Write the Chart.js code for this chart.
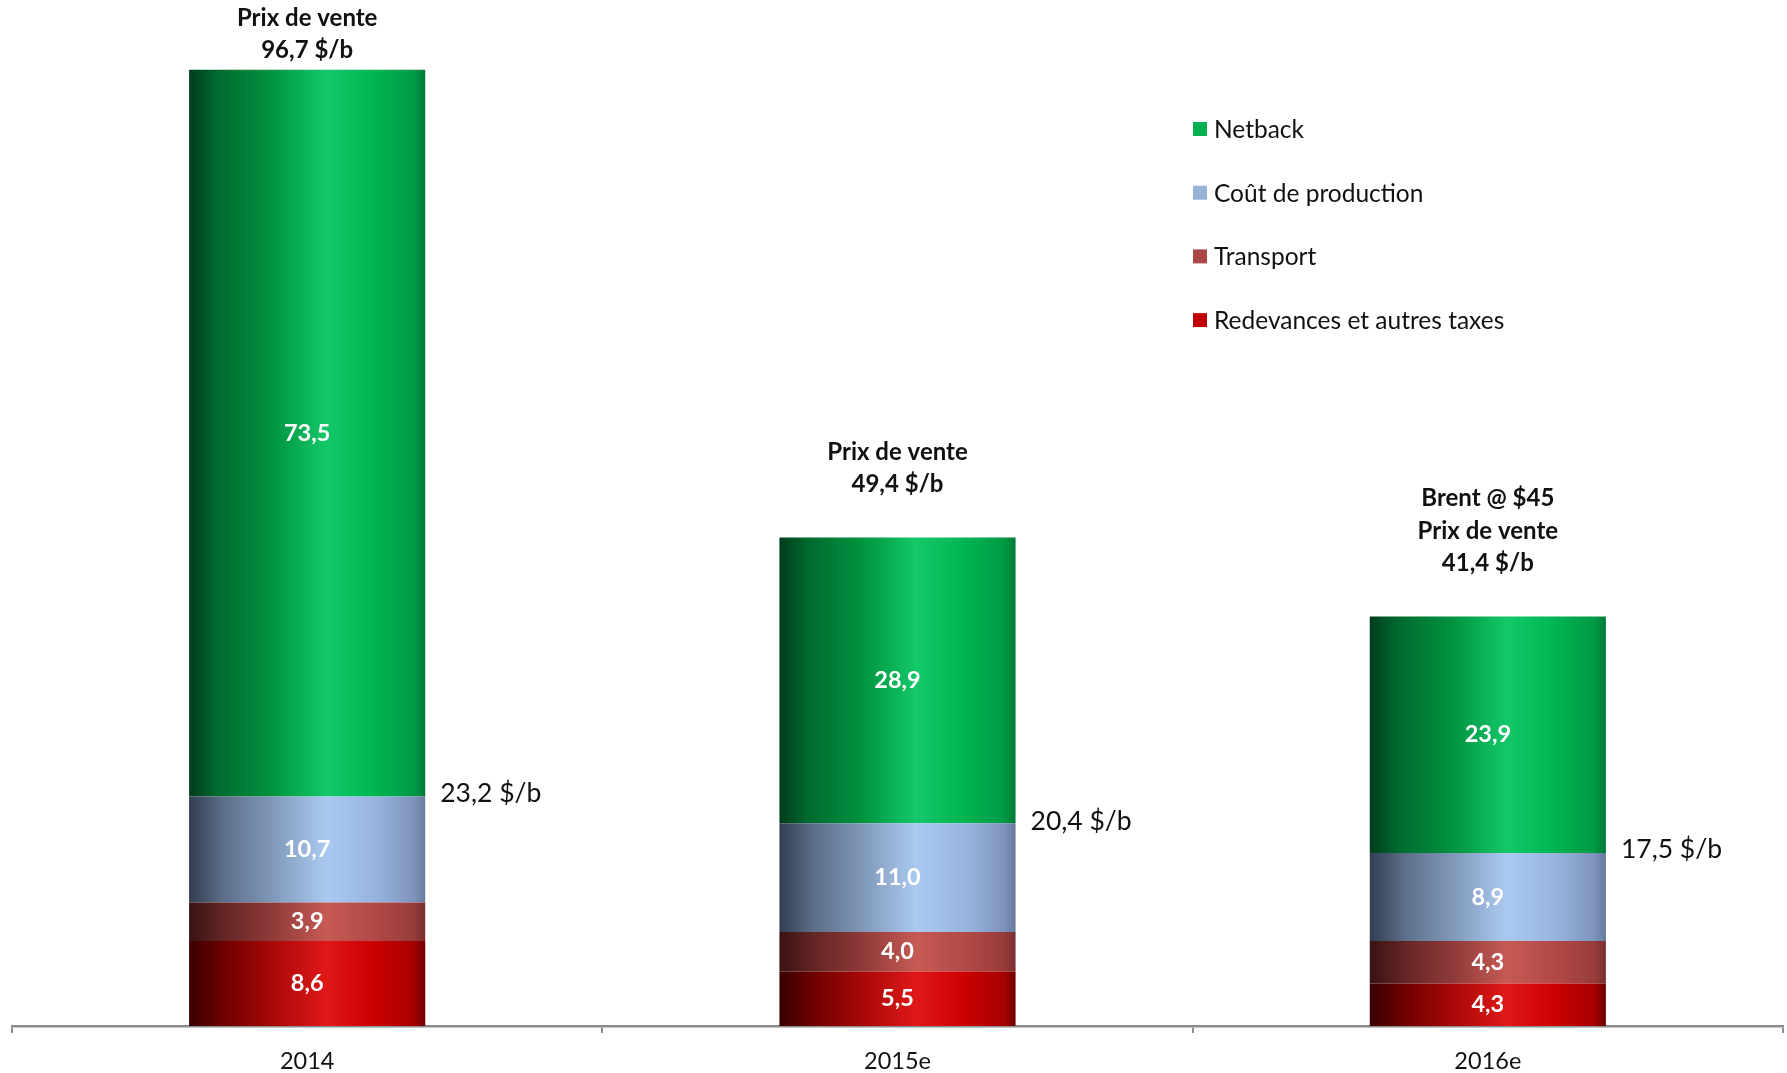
<!DOCTYPE html>
<html lang="fr">
<head>
<meta charset="utf-8">
<title>Prix de vente et netback</title>
<script src="https://cdn.jsdelivr.net/npm/chart.js@4/dist/chart.umd.min.js"></script>
<style>
  html, body { margin: 0; padding: 0; background: #fff; }
  #wrap { width: 1787px; height: 1073px; }
</style>
</head>
<body>
<div id="wrap">
  <canvas id="netbackChart" width="1787" height="1073"></canvas>
</div>
<script>
// years on the x axis
const years = ["2014", "2015e", "2016e"];

// stacked components, $/b (bottom to top)
const redevances = [8.6, 5.5, 4.3];
const transport = [3.9, 4.0, 4.3];
const coutProduction = [10.7, 11.0, 8.9];
const netback = [73.5, 28.9, 23.9];

// totals written beside / above the bars
const coutsTotaux = [23.2, 20.4, 17.5];
const prixVente = [96.7, 49.4, 41.4];
const titresExtra = ["", "", "Brent @ $45"];

const FONT = "Lato, 'Open Sans', sans-serif";

const fmt = (v) => v.toFixed(1).replace(".", ",");

// horizontal shading for each series: dark left edge, highlight past the middle
const shades = {
  netback: [[0, "#003d1b"], [0.12, "#006a2f"], [0.35, "#00933f"], [0.58, "#14c86a"], [0.78, "#00b552"], [0.95, "#009a45"], [1, "#007a37"]],
  cout: [[0, "#323e52"], [0.15, "#5d6f8a"], [0.35, "#7f98b8"], [0.58, "#abc9f0"], [0.8, "#97b3dc"], [0.95, "#7d94bc"], [1, "#667a9c"]],
  transport: [[0, "#3a1212"], [0.15, "#652626"], [0.35, "#8e3a38"], [0.58, "#c65a55"], [0.8, "#b04846"], [0.95, "#983c3c"], [1, "#7a2e2e"]],
  redevances: [[0, "#3a0000"], [0.15, "#700000"], [0.35, "#a80808"], [0.58, "#e01818"], [0.78, "#cc0000"], [0.95, "#a80000"], [1, "#6e0000"]],
};

const BAR_PCT = 0.4;

function barGradient(ctx, stops, fallback) {
  const chart = ctx.chart;
  const xs = chart.scales.x;
  if (!chart.chartArea || !xs) return fallback;
  const center = xs.getPixelForValue(ctx.dataIndex);
  const w = (chart.chartArea.width / years.length) * BAR_PCT;
  const g = chart.ctx.createLinearGradient(center - w / 2, 0, center + w / 2, 0);
  stops.forEach(([o, c]) => g.addColorStop(o, c));
  return g;
}

// labels inside segments, totals and the legend block
const annotations = {
  id: "annotations",
  afterDatasetsDraw(chart) {
    const { ctx } = chart;
    const ys = chart.scales.y;
    ctx.save();

    // segment values
    ctx.font = "bold 23.5px " + FONT;
    ctx.fillStyle = "#ffffff";
    ctx.textAlign = "center";
    ctx.textBaseline = "middle";
    chart.data.datasets.forEach((ds, di) => {
      chart.getDatasetMeta(di).data.forEach((el, i) => {
        ctx.fillText(fmt(ds.data[i]), el.x, (el.y + el.base) / 2);
      });
    });

    const topMeta = chart.getDatasetMeta(chart.data.datasets.length - 1);
    topMeta.data.forEach((el, i) => {
      const right = el.x + el.width / 2;

      // cost total next to the bar
      ctx.font = "26.5px " + FONT;
      ctx.fillStyle = "#111";
      ctx.textAlign = "left";
      ctx.fillText(fmt(coutsTotaux[i]) + " $/b", right + 15, ys.getPixelForValue(coutsTotaux[i]) - 3);

      // selling price above the bar
      const lines = [];
      if (titresExtra[i]) lines.push(titresExtra[i]);
      lines.push("Prix de vente", fmt(prixVente[i]) + " $/b");
      const lh = 32.5;
      let last = ys.getPixelForValue(prixVente[i]) - 53;
      let first = last - lh * (lines.length - 1);
      if (first < 18) { first = 18; }
      ctx.font = "bold 24px " + FONT;
      ctx.textAlign = "center";
      lines.forEach((t, k) => ctx.fillText(t, el.x, first + k * lh));
    });

    // legend, top series first
    const items = [
      ["Netback", "#00b050"],
      ["Coût de production", "#95b3d7"],
      ["Transport", "#aa4846"],
      ["Redevances et autres taxes", "#c00000"],
    ];
    ctx.font = "24.5px " + FONT;
    ctx.textAlign = "left";
    items.forEach(([label, color], k) => {
      const cy = 129 + k * 63.7;
      ctx.fillStyle = color;
      ctx.fillRect(1193, cy - 7, 14, 14);
      ctx.fillStyle = "#111";
      ctx.fillText(label, 1214, cy + 1);
    });

    ctx.restore();
  },
};

new Chart(document.getElementById("netbackChart"), {
  type: "bar",
  data: {
    labels: years,
    datasets: [
      { label: "Redevances et autres taxes", data: redevances, backgroundColor: (c) => barGradient(c, shades.redevances, "#c00000") },
      { label: "Transport", data: transport, backgroundColor: (c) => barGradient(c, shades.transport, "#aa4846") },
      { label: "Coût de production", data: coutProduction, backgroundColor: (c) => barGradient(c, shades.cout, "#95b3d7") },
      { label: "Netback", data: netback, backgroundColor: (c) => barGradient(c, shades.netback, "#00b050") },
    ],
  },
  options: {
    responsive: false,
    animation: false,
    layout: { padding: { top: 37, left: 12, right: 4, bottom: 0 } },
    datasets: {
      bar: { barPercentage: BAR_PCT, categoryPercentage: 1, borderWidth: 0 },
    },
    plugins: {
      legend: { display: false },
      tooltip: { enabled: false },
    },
    scales: {
      x: {
        stacked: true,
        grid: {
          offset: true,
          drawOnChartArea: false,
          drawTicks: true,
          tickLength: 7,
          color: "#8c8c8c",
          lineWidth: 2,
        },
        border: { display: true, color: "#8c8c8c", width: 2.5 },
        ticks: {
          color: "#111",
          font: { family: FONT, size: 23.5 },
          padding: 14,
        },
        afterFit(scale) {
          scale.height = 47;
        },
      },
      y: {
        stacked: true,
        display: false,
        min: 0,
        max: 100,
      },
    },
  },
  plugins: [annotations],
});
</script>
</body>
</html>
